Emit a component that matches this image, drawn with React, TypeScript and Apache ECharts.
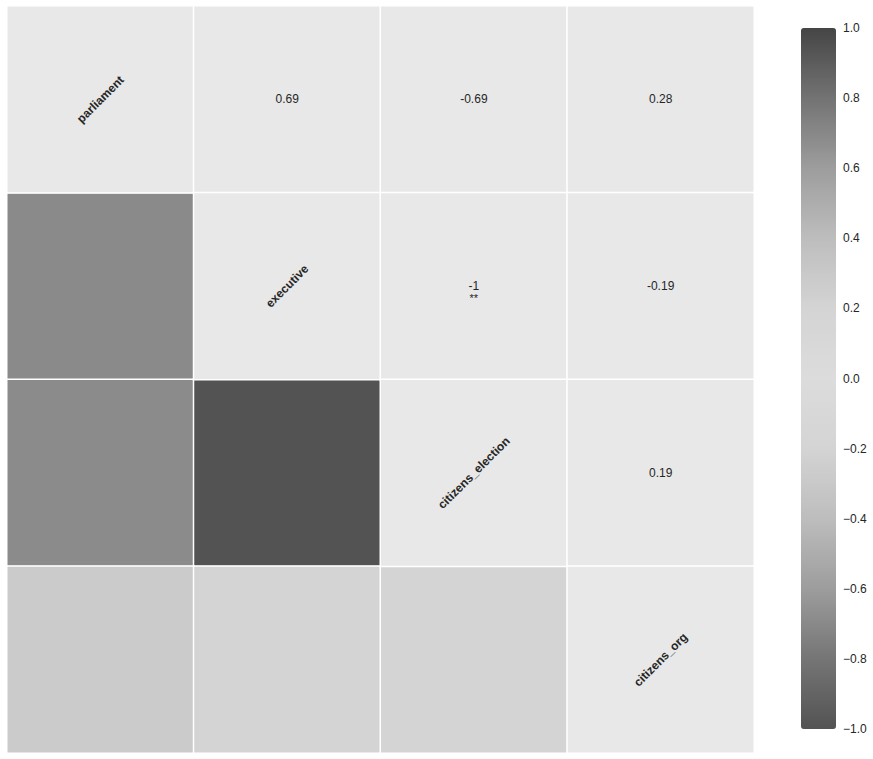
import React, { useEffect, useRef } from "react";
import * as echarts from "echarts";

const variables = ["parliament", "executive", "citizens_election", "citizens_org"];
const correlations = [
  [1, 0.69, -0.69, 0.28],
  [0.69, 1, -1, -0.19],
  [-0.69, -1, 1, 0.19],
  [0.28, -0.19, 0.19, 1],
];
const significance = [
  ["", "", "", ""],
  ["", "", "**", ""],
  ["", "", "", ""],
  ["", "", "", ""],
];
const colorStops = [
  "#535353", "#757575", "#9d9d9d", "#bdbdbd", "#d4d4d4", "#dcdcdc",
  "#d4d4d4", "#bdbdbd", "#9d9d9d", "#737373", "#454545",
];

const FONT = "Liberation Sans, Arial, sans-serif";

export default function App() {
  const ref = useRef<HTMLDivElement>(null);
  useEffect(() => {
    if (!ref.current) return;
    const chart = echarts.init(ref.current, null, { renderer: "svg" });
    const n = variables.length;
    const lower: any[] = [];
    const upper: any[] = [];
    for (let i = 0; i < n; i++) {
      for (let j = 0; j < n; j++) {
        const v = correlations[i][j];
        if (i > j) {
          lower.push([j, i, v]);
        } else if (i === j) {
          upper.push({
            value: [j, i, v],
            label: {
              formatter: variables[i],
              rotate: 45,
              fontWeight: "bold",
            },
          });
        } else {
          const sig = significance[i][j];
          const txt = String(v);
          upper.push({
            value: [j, i, v],
            label: sig
              ? { formatter: txt + "\n{s|" + sig + "}", offset: [0, 5] }
              : { formatter: txt },
          });
        }
      }
    }
    chart.setOption({
      animation: false,
      textStyle: { fontFamily: FONT },
      grid: [
        { left: 7, top: 6, width: 747, height: 747 },
        { left: 801, top: 28, width: 35, height: 701 },
      ],
      xAxis: [
        { type: "category", data: variables, gridIndex: 0, show: false },
        { type: "value", gridIndex: 1, show: false, min: 0, max: 1 },
      ],
      yAxis: [
        { type: "category", data: variables, gridIndex: 0, show: false, inverse: true },
        {
          type: "value",
          gridIndex: 1,
          position: "right",
          min: -1,
          max: 1,
          interval: 0.2,
          axisLine: { show: false },
          axisTick: { show: false },
          splitLine: { show: false },
          axisLabel: {
            margin: 7,
            fontSize: 12,
            color: "#262626",
            fontFamily: FONT,
            formatter: (v: number) => {
              const s = Math.abs(v).toFixed(1);
              return v < -1e-9 ? "\u2212" + s : s;
            },
          },
        },
      ],
      visualMap: [
        {
          type: "continuous",
          min: -1,
          max: 1,
          seriesIndex: 0,
          calculable: false,
          left: 801,
          top: 28,
          itemWidth: 35,
          itemHeight: 701,
          padding: 0,
          inRange: { color: colorStops },
        },
        {
          type: "continuous",
          show: false,
          min: -1,
          max: 1,
          seriesIndex: 1,
          inRange: { color: ["#e8e8e8", "#e8e8e8"] },
        },
      ],
      series: [
        {
          type: "heatmap",
          xAxisIndex: 0,
          yAxisIndex: 0,
          data: lower,
          itemStyle: { borderColor: "#ffffff", borderWidth: 1.5 },
          label: { show: false },
        },
        {
          type: "heatmap",
          xAxisIndex: 0,
          yAxisIndex: 0,
          data: upper,
          itemStyle: { borderColor: "#ffffff", borderWidth: 1.5 },
          emphasis: { disabled: true },
          label: {
            show: true,
            fontSize: 12,
            color: "#262626",
            fontFamily: FONT,
            lineHeight: 13,
            rich: { s: { fontSize: 11, color: "#262626", lineHeight: 11 } },
          },
        },
      ],
    });
    return () => chart.dispose();
  }, []);
  return (
    <div
      ref={ref}
      style={{ position: "absolute", left: 0, top: 0, width: 873, height: 759, background: "#fff" }}
    />
  );
}
